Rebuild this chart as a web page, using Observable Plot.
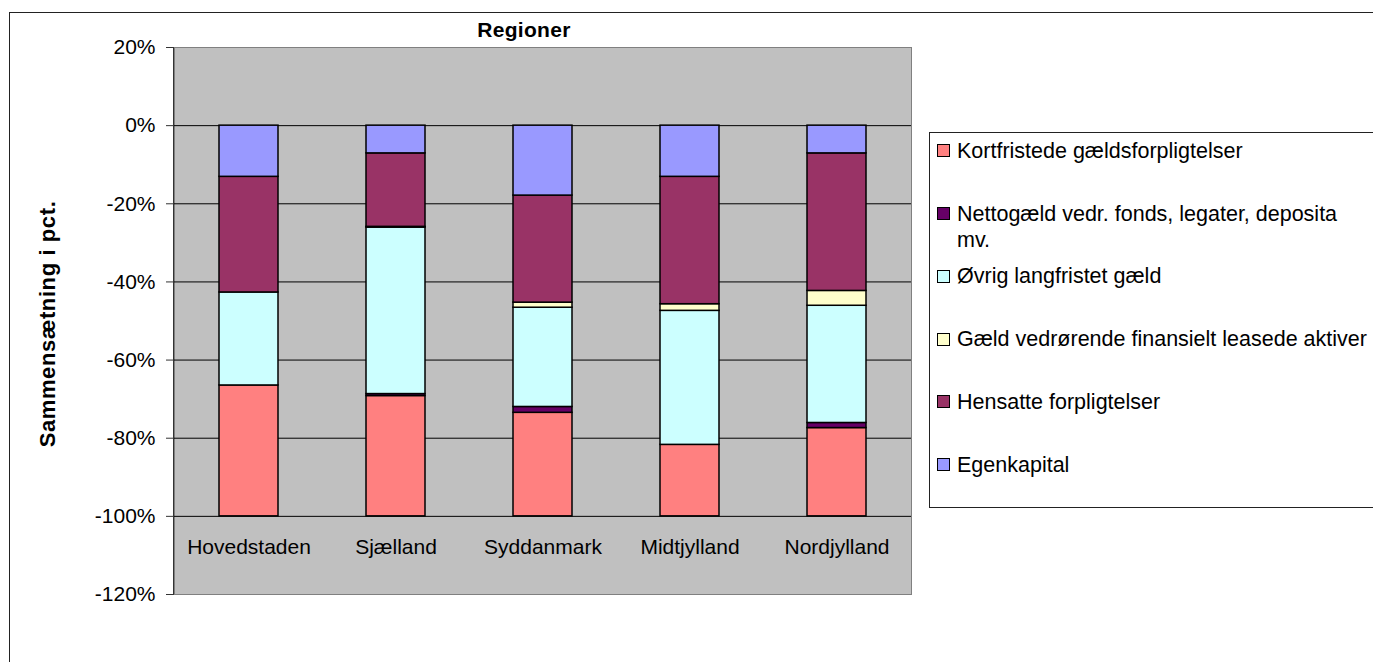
<!DOCTYPE html>
<html><head><meta charset="utf-8">
<script src="https://cdn.jsdelivr.net/npm/d3@7"></script>
<script src="https://cdn.jsdelivr.net/npm/@observablehq/plot@0.6"></script>
<style>
html,body{margin:0;padding:0;background:#fff;overflow:hidden;}
#wrap{position:relative;width:1373px;height:662px;overflow:hidden;font-family:"Liberation Sans",Arial,sans-serif;color:#000;}
#chart{position:absolute;left:0;top:0;}
.outer{position:absolute;left:9px;top:12px;width:1420px;height:720px;border:1px solid #222;box-sizing:border-box;}
.axisline{position:absolute;left:173px;top:47px;width:1px;height:547px;background:#333;}
#title{position:absolute;left:424px;top:17px;width:200px;text-align:center;font-weight:bold;font-size:21px;line-height:26px;letter-spacing:0.3px;}
#ylabel{position:absolute;left:48px;top:324px;width:400px;text-align:center;font-weight:bold;font-size:22px;line-height:26px;letter-spacing:0.6px;transform:translate(-50%,-50%) rotate(-90deg);white-space:nowrap;}
.legbox{position:absolute;left:929px;top:132px;width:480px;height:376px;border:1px solid #222;box-sizing:border-box;background:#fff;}
.sw{position:absolute;width:13px;height:13px;border:1px solid #000;box-sizing:border-box;}
.lt{position:absolute;left:957px;width:414px;font-size:21.5px;line-height:26px;}
</style></head><body>
<div id="wrap">
  <div class="outer"></div>
  <div id="chart"></div>
  <div class="axisline"></div>
  <div id="title">Regioner</div>
  <div id="ylabel">Sammensætning i pct.</div>
  <div class="legbox"></div>
  <div id="legend"></div>
</div>
<script>
// Categories
const regions = ["Hovedstaden", "Sjælland", "Syddanmark", "Midtjylland", "Nordjylland"];
// Series (legend order)
const series = [
  "Kortfristede gældsforpligtelser",
  "Nettogæld vedr. fonds, legater, deposita mv.",
  "Øvrig langfristet gæld",
  "Gæld vedrørende finansielt leasede aktiver",
  "Hensatte forpligtelser",
  "Egenkapital"
];
const colors = ["#FF8080", "#660066", "#CCFFFF", "#FFFFCC", "#993366", "#9999FF"];
// Shares in percent (drawn downward from 0)
const kortfristede = [33.5, 30.8, 26.5, 18.3, 22.6];
const nettogaeld   = [0.0, 0.5, 1.5, 0.0, 1.3];
const oevrigLang   = [23.8, 42.6, 25.4, 34.3, 30.0];
const leasing      = [0.0, 0.2, 1.3, 1.7, 3.8];
const hensatte     = [29.6, 18.8, 27.4, 32.6, 35.2];
const egenkapital  = [13.1, 7.1, 17.9, 13.1, 7.1];
const yTicks = [20, 0, -20, -40, -60, -80, -100, -120];
const gridTicks = [0, -20, -40, -60, -80, -100];

const valueLists = [kortfristede, nettogaeld, oevrigLang, leasing, hensatte, egenkapital];
const data = [];
series.forEach((s, i) => regions.forEach((r, j) => data.push({region: r, series: s, value: -valueLists[i][j]})));
const stackOrder = [...series].reverse();

const plot = Plot.plot({
  width: 1373, height: 662,
  marginLeft: 174, marginRight: 462, marginTop: 47, marginBottom: 68,
  style: {fontFamily: "'Liberation Sans', Arial, sans-serif", fontSize: "21px", color: "#000", background: "transparent", overflow: "visible"},
  x: {type: "band", domain: regions, paddingInner: 0.6, paddingOuter: 0.3, label: null},
  y: {domain: [-120, 20], label: null},
  color: {domain: series, range: colors},
  marks: [
    Plot.frame({fill: "#c0c0c0", stroke: "#808080"}),
    Plot.ruleY(gridTicks, {stroke: "#000", strokeWidth: 1}),
    Plot.barY(data, Plot.stackY({x: "region", y: "value", fill: "series", order: stackOrder, stroke: "#000", strokeWidth: 1.5})),
    Plot.axisY({ticks: yTicks, tickFormat: d => `${d}%`, tickSize: 8, tickPadding: 11, fontSize: 21, label: null, stroke: "#333"}),
    Plot.axisX({anchor: "bottom", tickSize: 0, tickPadding: 0, lineAnchor: "middle", dy: -47, fontSize: 21, label: null})
  ]
});
document.getElementById("chart").appendChild(plot);

// Legend
const leg = document.getElementById("legend");
series.forEach((s, i) => {
  const cy = 150.7 + i * 62.8;
  const sw = document.createElement("div");
  sw.className = "sw";
  sw.style.left = "937px";
  sw.style.top = (cy - 6.5) + "px";
  sw.style.background = colors[i];
  leg.appendChild(sw);
  const t = document.createElement("div");
  t.className = "lt";
  t.style.top = (cy - 13) + "px";
  t.textContent = s;
  leg.appendChild(t);
});
</script>
</body></html>
